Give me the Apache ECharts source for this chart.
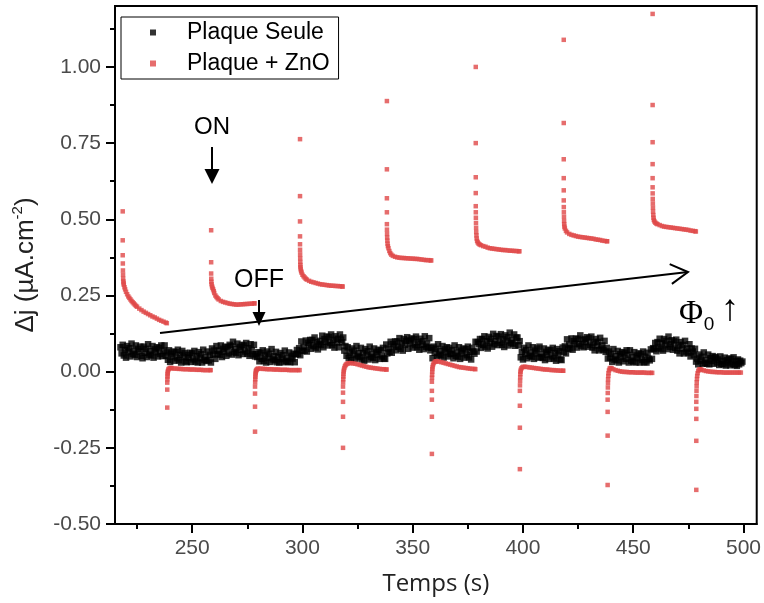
<!DOCTYPE html>
<html><head><meta charset="utf-8">
<script src="https://cdn.jsdelivr.net/npm/echarts@6/dist/echarts.min.js"></script>
<style>html,body{margin:0;padding:0;background:#fff}#c{width:764px;height:603px}</style>
</head><body><div id="c"></div>
<script>
// ---- axes ----
const xMin = 215, xMax = 506, yMin = -0.5, yMax = 1.2;
const xTickValues = [250, 300, 350, 400, 450, 500];
const xMinorTickValues = [225, 275, 325, 375, 425, 475];
const yTickValues = [-0.5, -0.25, 0, 0.25, 0.5, 0.75, 1.0];
const yMinorTickValues = [-0.375, -0.125, 0.125, 0.375, 0.625, 0.875, 1.125];
const seriesNames = ['Plaque Seule', 'Plaque + ZnO'];

// ---- Plaque Seule: samples every 0.5 s starting at 217.5 s ----
const seuleStart = 217.5, seuleStep = 0.5;
const seuleValues = [
0.080,0.060,0.088,0.053,0.071,0.046,0.084,0.064,0.077,0.050,0.092,0.058,0.069,0.055,0.086,0.048,0.075,0.066,0.082,0.052,
0.044,0.082,0.062,0.075,0.048,0.090,0.056,0.067,0.053,0.084,0.046,0.073,0.064,0.080,0.050,0.078,0.058,0.086,0.051,0.069,
0.086,0.052,0.063,0.039,0.070,0.032,0.059,0.050,0.066,0.036,0.064,0.044,0.072,0.037,0.055,0.030,0.068,0.048,0.061,0.034,
0.031,0.055,0.046,0.062,0.032,0.060,0.040,0.068,0.033,0.051,0.030,0.064,0.044,0.057,0.030,0.072,0.038,0.049,0.035,0.066,
0.037,0.055,0.030,0.076,0.056,0.069,0.042,0.084,0.058,0.069,0.055,0.086,0.048,0.075,0.066,0.082,0.052,0.080,0.060,0.088,
0.083,0.056,0.098,0.064,0.075,0.061,0.092,0.054,0.081,0.072,0.088,0.058,0.086,0.066,0.094,0.059,0.077,0.052,0.090,0.070,
0.057,0.088,0.050,0.057,0.048,0.064,0.034,0.062,0.042,0.070,0.035,0.053,0.030,0.066,0.046,0.059,0.032,0.074,0.040,0.051,
0.037,0.065,0.031,0.048,0.030,0.061,0.041,0.054,0.031,0.069,0.035,0.046,0.032,0.063,0.031,0.052,0.043,0.059,0.031,0.057,
0.071,0.058,0.077,0.054,0.099,0.068,0.081,0.069,0.102,0.066,0.095,0.087,0.104,0.075,0.104,0.084,0.112,0.079,0.097,0.073,
0.090,0.101,0.087,0.118,0.080,0.107,0.098,0.115,0.086,0.114,0.094,0.122,0.087,0.104,0.079,0.116,0.096,0.108,0.080,0.122,
0.105,0.096,0.112,0.069,0.084,0.052,0.080,0.045,0.063,0.038,0.076,0.056,0.069,0.042,0.084,0.050,0.061,0.047,0.078,0.040,
0.061,0.036,0.074,0.054,0.067,0.040,0.082,0.048,0.059,0.045,0.076,0.038,0.065,0.056,0.072,0.042,0.070,0.050,0.078,0.043,
0.042,0.089,0.060,0.076,0.065,0.098,0.062,0.090,0.082,0.099,0.070,0.099,0.081,0.110,0.075,0.093,0.069,0.107,0.088,0.101,
0.113,0.075,0.102,0.093,0.109,0.079,0.107,0.087,0.115,0.080,0.096,0.072,0.108,0.088,0.100,0.074,0.116,0.082,0.092,0.079,
0.110,0.070,0.078,0.044,0.082,0.062,0.075,0.048,0.090,0.056,0.067,0.053,0.084,0.046,0.073,0.064,0.080,0.050,0.078,0.058,
0.058,0.071,0.044,0.086,0.052,0.063,0.049,0.080,0.042,0.069,0.060,0.076,0.046,0.074,0.054,0.082,0.047,0.065,0.040,0.078,
0.066,0.059,0.098,0.066,0.097,0.090,0.107,0.078,0.107,0.088,0.116,0.082,0.100,0.076,0.114,0.095,0.108,0.082,0.124,0.090,
0.101,0.117,0.087,0.115,0.095,0.123,0.088,0.106,0.081,0.119,0.100,0.113,0.086,0.128,0.094,0.105,0.092,0.122,0.085,0.112,
0.112,0.087,0.100,0.047,0.065,0.040,0.078,0.058,0.071,0.044,0.086,0.052,0.063,0.049,0.080,0.042,0.069,0.060,0.076,0.046,
0.082,0.048,0.059,0.045,0.076,0.038,0.065,0.056,0.072,0.042,0.070,0.050,0.078,0.043,0.061,0.036,0.074,0.054,0.067,0.040,
0.038,0.079,0.064,0.083,0.060,0.106,0.075,0.089,0.077,0.109,0.072,0.100,0.091,0.108,0.079,0.108,0.090,0.119,0.084,0.103,
0.080,0.107,0.097,0.113,0.082,0.109,0.088,0.115,0.079,0.096,0.070,0.107,0.086,0.098,0.070,0.111,0.076,0.086,0.071,0.101,
0.065,0.078,0.043,0.066,0.046,0.059,0.032,0.074,0.040,0.051,0.037,0.068,0.030,0.057,0.048,0.064,0.034,0.062,0.042,0.070,
0.055,0.030,0.070,0.036,0.047,0.033,0.064,0.030,0.053,0.044,0.060,0.030,0.058,0.038,0.066,0.031,0.049,0.030,0.062,0.042,
0.037,0.073,0.042,0.077,0.074,0.094,0.067,0.097,0.079,0.108,0.074,0.093,0.069,0.107,0.087,0.101,0.074,0.115,0.081,0.091,
0.103,0.072,0.099,0.078,0.105,0.069,0.086,0.060,0.097,0.076,0.088,0.060,0.101,0.066,0.076,0.061,0.090,0.050,0.076,0.066,
0.054,0.075,0.033,0.043,0.024,0.056,0.036,0.049,0.026,0.063,0.029,0.039,0.026,0.056,0.024,0.044,0.035,0.051,0.026,0.048,
0.046,0.030,0.040,0.022,0.050,0.026,0.035,0.024,0.046,0.020,0.038,0.030,0.043,0.021,0.042,0.026,0.047,0.022,0.034,0.019,
0.040,0.024,0.036,0.028,0.033
];

// ---- Plaque + ZnO: [time (s), Δj] per illumination step ----
const znoOn1 = [[218.5,0.526],[218.5,0.431],[218.5,0.382],[218.55,0.355],[218.6,0.332],[218.65,0.318],[218.7,0.305],[218.8,0.296],[218.9,0.29],[219,0.285],[219.3,0.277],[219.6,0.27],[220,0.262],[220.5,0.254],[221,0.247],[221.5,0.242],[222,0.237],[222.5,0.232],[223,0.228],[223.5,0.224],[224,0.22],[224.5,0.216],[225,0.213],[226,0.207],[227,0.202],[228,0.197],[229,0.193],[230,0.189],[231,0.185],[232,0.181],[233,0.178],[234,0.174],[235,0.17],[236,0.167],[237,0.164],[238,0.161],[238.5,0.159]];
const znoOff1 = [[238.7,-0.118],[238.7,-0.059],[238.7,-0.036],[238.75,-0.025],[238.8,-0.016],[238.85,-0.009],[238.9,-0.003],[239,0.002],[239.2,0.007],[239.5,0.01],[240,0.012],[240.5,0.012],[241,0.011],[242,0.01],[243,0.01],[244,0.009],[245,0.009],[246,0.008],[247,0.008],[248,0.008],[249,0.007],[250,0.007],[251,0.007],[252,0.006],[253,0.006],[254,0.006],[255,0.005],[256,0.005],[257,0.005],[258,0.005],[258.4,0.005]];
const znoOn2 = [[258.6,0.464],[258.6,0.359],[258.6,0.322],[258.65,0.305],[258.7,0.295],[258.8,0.287],[259,0.28],[259.2,0.275],[259.5,0.27],[259.8,0.264],[260,0.258],[260.5,0.25],[261,0.245],[261.5,0.241],[262,0.237],[263,0.232],[264,0.229],[265,0.227],[266,0.225],[267,0.223],[268,0.222],[269,0.221],[270,0.22],[271,0.22],[272,0.221],[273,0.221],[274,0.222],[275,0.222],[276,0.223],[277,0.223],[278,0.224],[278.3,0.224]];
const znoOff2 = [[278.5,-0.197],[278.5,-0.115],[278.5,-0.072],[278.5,-0.049],[278.55,-0.035],[278.6,-0.025],[278.65,-0.017],[278.7,-0.01],[278.8,-0.004],[278.9,0.001],[279,0.004],[279.3,0.007],[279.6,0.009],[280,0.01],[281,0.01],[282,0.009],[283,0.009],[284,0.008],[285,0.008],[286,0.008],[287,0.007],[288,0.007],[289,0.007],[290,0.006],[291,0.006],[292,0.006],[293,0.006],[294,0.005],[295,0.005],[296,0.005],[297,0.005],[298,0.005],[298.7,0.005]];
const znoOn3 = [[298.9,0.763],[298.9,0.576],[298.9,0.493],[298.9,0.444],[298.9,0.418],[298.92,0.40],[298.95,0.385],[298.98,0.372],[299.02,0.36],[299.06,0.35],[299.1,0.343],[299.2,0.336],[299.4,0.33],[299.6,0.325],[300,0.318],[300.5,0.313],[301,0.309],[301.5,0.305],[302,0.302],[303,0.298],[304,0.295],[305,0.293],[306,0.291],[307,0.289],[308,0.287],[309,0.286],[310,0.285],[311,0.284],[312,0.283],[313,0.282],[314,0.282],[315,0.281],[316,0.281],[317,0.28],[318,0.28],[318.2,0.279]];
const znoOff3 = [[318.4,-0.25],[318.4,-0.148],[318.4,-0.099],[318.4,-0.069],[318.4,-0.049],[318.45,-0.035],[318.5,-0.025],[318.55,-0.016],[318.6,-0.008],[318.7,0],[318.8,0.006],[319,0.012],[319.3,0.018],[319.6,0.022],[320,0.025],[320.5,0.027],[321,0.028],[322,0.028],[323,0.027],[324,0.026],[325,0.024],[326,0.022],[327,0.02],[328,0.018],[329,0.016],[330,0.014],[331,0.013],[332,0.012],[333,0.011],[334,0.01],[335,0.009],[336,0.008],[337,0.008],[338,0.007],[338.1,0.007]];
const znoOn4 = [[338.3,0.888],[338.3,0.664],[338.3,0.569],[338.3,0.523],[338.3,0.484],[338.33,0.466],[338.37,0.452],[338.42,0.44],[338.5,0.43],[338.6,0.42],[338.75,0.412],[339,0.405],[339.4,0.396],[339.8,0.389],[340.3,0.384],[341,0.38],[342,0.377],[343,0.375],[344,0.374],[345,0.373],[346,0.373],[347,0.372],[348,0.372],[349,0.371],[350,0.371],[351,0.37],[352,0.37],[353,0.369],[354,0.368],[355,0.367],[356,0.366],[357,0.366],[358,0.365],[358.4,0.365]];
const znoOff4 = [[358.7,-0.27],[358.7,-0.148],[358.7,-0.092],[358.7,-0.063],[358.7,-0.033],[358.75,-0.02],[358.8,-0.01],[358.85,0],[358.9,0.008],[359,0.015],[359.2,0.022],[359.5,0.028],[360,0.032],[360.5,0.034],[361,0.034],[362,0.033],[363,0.031],[364,0.029],[365,0.027],[366,0.025],[367,0.023],[368,0.021],[369,0.019],[370,0.017],[371,0.015],[372,0.014],[373,0.013],[374,0.012],[375,0.011],[376,0.01],[377,0.009],[378,0.009],[378.4,0.008]];
const znoOn5 = [[378.6,1.0],[378.6,0.75],[378.6,0.638],[378.6,0.586],[378.6,0.543],[378.62,0.523],[378.65,0.505],[378.7,0.488],[378.75,0.472],[378.8,0.458],[378.9,0.447],[379,0.437],[379.2,0.429],[379.5,0.424],[379.9,0.42],[380.4,0.417],[381,0.415],[382,0.412],[383,0.41],[384,0.407],[385,0.405],[386,0.404],[387,0.403],[388,0.402],[389,0.401],[390,0.4],[391,0.399],[392,0.399],[393,0.398],[394,0.397],[395,0.397],[396,0.396],[397,0.396],[398,0.395],[398.4,0.395]];
const znoOff5 = [[398.6,-0.32],[398.6,-0.184],[398.6,-0.112],[398.6,-0.063],[398.65,-0.045],[398.7,-0.03],[398.75,-0.018],[398.8,-0.008],[398.9,0],[399,0.006],[399.3,0.011],[399.7,0.014],[400.2,0.016],[401,0.016],[402,0.015],[403,0.014],[404,0.013],[405,0.012],[406,0.011],[407,0.01],[408,0.009],[409,0.008],[410,0.007],[411,0.007],[412,0.006],[413,0.005],[414,0.005],[415,0.004],[416,0.004],[417,0.003],[418,0.003],[418.3,0.003]];
const znoOn6 = [[418.5,1.089],[418.5,0.816],[418.5,0.697],[418.5,0.635],[418.5,0.595],[418.5,0.562],[418.52,0.54],[418.55,0.523],[418.6,0.508],[418.65,0.494],[418.7,0.484],[418.8,0.476],[419,0.47],[419.5,0.462],[420,0.457],[421,0.452],[422,0.449],[423,0.447],[424,0.445],[425,0.443],[426,0.442],[427,0.441],[428,0.44],[429,0.439],[430,0.438],[431,0.437],[432,0.436],[433,0.434],[434,0.433],[435,0.432],[436,0.43],[437,0.429],[438,0.428],[438.2,0.428]];
const znoOff6 = [[438.4,-0.372],[438.4,-0.21],[438.4,-0.132],[438.4,-0.092],[438.45,-0.07],[438.5,-0.052],[438.55,-0.037],[438.6,-0.025],[438.7,-0.014],[438.8,-0.005],[439,0.004],[439.3,0.01],[439.7,0.012],[440.2,0.011],[441,0.008],[442,0.005],[443,0.003],[444,0.001],[445,0],[446,-0.001],[447,-0.001],[448,-0.002],[449,-0.002],[450,-0.002],[451,-0.003],[452,-0.003],[453,-0.003],[454,-0.003],[455,-0.003],[456,-0.004],[457,-0.004],[458,-0.004],[458.6,-0.004]];
const znoOn7 = [[458.8,1.174],[458.8,0.875],[458.8,0.753],[458.8,0.681],[458.8,0.635],[458.8,0.605],[458.82,0.585],[458.85,0.567],[458.9,0.552],[458.95,0.538],[459,0.525],[459.1,0.514],[459.2,0.505],[459.35,0.498],[459.6,0.493],[460,0.489],[460.5,0.486],[461,0.484],[462,0.481],[463,0.478],[464,0.476],[465,0.475],[466,0.474],[467,0.473],[468,0.472],[469,0.471],[470,0.47],[471,0.469],[472,0.468],[473,0.467],[474,0.466],[475,0.465],[476,0.463],[477,0.462],[478,0.461],[478.4,0.46]];
const znoOff7 = [[478.6,-0.388],[478.6,-0.227],[478.6,-0.155],[478.6,-0.122],[478.6,-0.099],[478.65,-0.08],[478.7,-0.063],[478.75,-0.048],[478.8,-0.035],[478.9,-0.024],[479,-0.014],[479.2,-0.005],[479.5,0.003],[480,0.008],[480.5,0.008],[481,0.006],[482,0.004],[483,0.002],[484,0.001],[485,0],[486,-0.001],[487,-0.001],[488,-0.002],[489,-0.002],[490,-0.002],[491,-0.003],[492,-0.003],[493,-0.003],[494,-0.003],[495,-0.003],[496,-0.003],[497,-0.003],[498,-0.003],[498.8,-0.003]];

// ---- annotation texts ----
const labelOn = 'ON', labelOff = 'OFF', labelPhi = 'Φ', labelPhiSub = '0', labelUp = '↑';
const xAxisTitle = 'Temps (s)';
const yAxisTitle = 'Δj (µA.cm{sup|-2})';

// ---- build ----
const seuleData = seuleValues.map((v, i) => [seuleStart + i * seuleStep, v]);
const znoData = [].concat(znoOn1, znoOff1, znoOn2, znoOff2, znoOn3, znoOff3, znoOn4, znoOff4,
                          znoOn5, znoOff5, znoOn6, znoOff6, znoOn7, znoOff7);

const SANS = "'Liberation Sans', Arial, sans-serif";
const SERIF = "'Liberation Serif', 'Times New Roman', serif";
const tickColor = '#4a4a4a';

function baseX(extra) {
  return Object.assign({
    type: 'value', min: xMin, max: xMax, position: 'bottom',
    splitLine: { show: false }
  }, extra);
}
function baseY(extra) {
  return Object.assign({
    type: 'value', min: yMin, max: yMax, position: 'left',
    splitLine: { show: false }
  }, extra);
}

const chart = echarts.init(document.getElementById('c'), null, { renderer: 'canvas' });
chart.setOption({
  animation: false,
  backgroundColor: '#ffffff',
  grid: { left: 115, right: 7, top: 6, bottom: 79, show: true, borderColor: '#000', borderWidth: 2, backgroundColor: 'transparent', containLabel: false },
  legend: {
    data: seriesNames,
    orient: 'vertical', left: 121, top: 17,
    padding: [4, 9, 4, 29],
    itemWidth: 6, itemHeight: 6, itemGap: 8,
    borderColor: '#000', borderWidth: 1, backgroundColor: '#fff',
    textStyle: { fontFamily: SANS, fontSize: 23, color: '#000', padding: [0, 0, 0, 26] }
  },
  xAxis: [
    baseX({
      name: xAxisTitle, nameLocation: 'middle', nameGap: 48,
      nameTextStyle: { fontFamily: "'Open Sans', sans-serif", fontSize: 24, color: '#222' },
      axisLine: { show: true, onZero: false, lineStyle: { color: '#000', width: 2 } },
      axisTick: { show: true, customValues: xTickValues, length: 9, lineStyle: { color: '#000', width: 2 } },
      axisLabel: { show: true, customValues: xTickValues, margin: 14, fontFamily: SANS, fontSize: 21, color: tickColor }
    }),
    baseX({
      axisLine: { show: false, onZero: false },
      axisTick: { show: true, customValues: xMinorTickValues, length: 5, lineStyle: { color: '#000', width: 2 } },
      axisLabel: { show: false }
    })
  ],
  yAxis: [
    baseY({
      name: yAxisTitle, nameLocation: 'middle', nameGap: 71, nameRotate: 90,
      nameTextStyle: { fontFamily: SANS, fontSize: 26, color: '#222', lineHeight: 32,
        rich: { sup: { fontFamily: SANS, fontSize: 15, lineHeight: 16, verticalAlign: 'top', color: '#222' } } },
      axisLine: { show: true, onZero: false, lineStyle: { color: '#000', width: 2 } },
      axisTick: { show: true, customValues: yTickValues, length: 9, lineStyle: { color: '#000', width: 2 } },
      axisLabel: { show: true, customValues: yTickValues, margin: 14, fontFamily: SANS, fontSize: 21, color: tickColor,
        formatter: v => Number(v).toFixed(2) }
    }),
    baseY({
      axisLine: { show: false, onZero: false },
      axisTick: { show: true, customValues: yMinorTickValues, length: 5, lineStyle: { color: '#000', width: 2 } },
      axisLabel: { show: false }
    })
  ],
  series: [
    { name: seriesNames[0], type: 'scatter', xAxisIndex: 0, yAxisIndex: 0, symbol: 'rect', symbolSize: 6.5,
      itemStyle: { color: '#000000' }, data: seuleData, z: 2 },
    { name: seriesNames[1], type: 'scatter', xAxisIndex: 0, yAxisIndex: 0, symbol: 'rect', symbolSize: 4.5,
      itemStyle: { color: '#e04848' }, data: znoData, z: 3 }
  ],
  graphic: [
    { type: 'text', x: 212, y: 127, z: 10, style: { text: labelOn, font: '24px ' + SANS, fill: '#000', textAlign: 'center', textVerticalAlign: 'middle', align: 'center', verticalAlign: 'middle' } },
    { type: 'line', z: 10, shape: { x1: 212, y1: 147, x2: 212, y2: 171 }, style: { stroke: '#000', lineWidth: 2 } },
    { type: 'polygon', z: 10, shape: { points: [[204.5, 169], [219.5, 169], [212, 184]] }, style: { fill: '#000' } },
    { type: 'text', x: 259, y: 280, z: 10, style: { text: labelOff, font: '25px ' + SANS, fill: '#000', textAlign: 'center', textVerticalAlign: 'middle', align: 'center', verticalAlign: 'middle' } },
    { type: 'line', z: 10, shape: { x1: 259, y1: 300, x2: 259, y2: 314 }, style: { stroke: '#000', lineWidth: 2 } },
    { type: 'polygon', z: 10, shape: { points: [[252.5, 312], [265.5, 312], [259, 326]] }, style: { fill: '#000' } },
    { type: 'line', z: 10, shape: { x1: 160, y1: 333, x2: 688, y2: 272 }, style: { stroke: '#000', lineWidth: 2 } },
    { type: 'polyline', z: 10, shape: { points: [[669.7, 264.1], [688, 272], [671.9, 283.9]] }, style: { stroke: '#000', lineWidth: 2, fill: null } },
    { type: 'text', x: 691, y: 314, z: 10, style: { text: labelPhi, font: '33px ' + SERIF, fill: '#000', textAlign: 'center', textVerticalAlign: 'middle', align: 'center', verticalAlign: 'middle' } },
    { type: 'text', x: 709, y: 325, z: 10, style: { text: labelPhiSub, font: '19px ' + SANS, fill: '#000', textAlign: 'center', textVerticalAlign: 'middle', align: 'center', verticalAlign: 'middle' } },
    { type: 'text', x: 730, y: 310, z: 10, style: { text: labelUp, font: '37px ' + SERIF, fill: '#000', textAlign: 'center', textVerticalAlign: 'middle', align: 'center', verticalAlign: 'middle' } }
  ]
});
</script>
</body></html>
